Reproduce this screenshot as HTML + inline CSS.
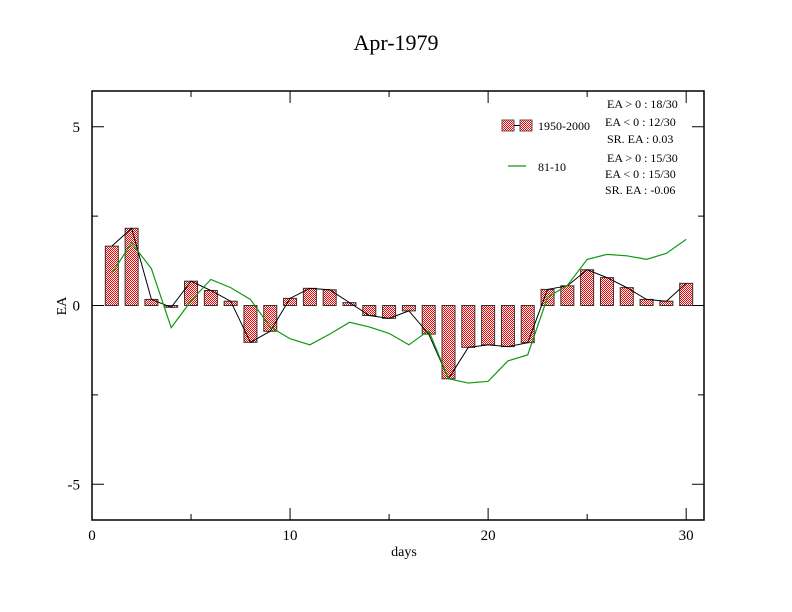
<!DOCTYPE html>
<html><head><meta charset="utf-8"><style>
html,body{margin:0;padding:0;background:#fff;}
svg{display:block;font-family:"Liberation Serif",serif;}
</style></head><body>
<svg id="chart" width="792" height="612" viewBox="0 0 792 612">
<defs>
<pattern id="chk" width="2" height="2" patternUnits="userSpaceOnUse">
<rect width="2" height="2" fill="#fff"/><rect width="1" height="1" fill="#f00"/><rect x="1" y="1" width="1" height="1" fill="#f00"/>
</pattern>
</defs>
<text x="396" y="50" font-size="22" text-anchor="middle">Apr-1979</text>
<rect x="92" y="91" width="612" height="429" fill="none" stroke="#000" stroke-width="1.5"/>
<g id="ticks"></g>
<g id="bars"></g>
<g id="lines"></g>
<text x="404" y="556" font-size="14" text-anchor="middle">days</text>
<text x="66" y="306" font-size="14" text-anchor="middle" transform="rotate(-90 66 306)">EA</text>
<g font-size="12">
<rect x="502" y="120" width="12" height="11" fill="url(#chk)" stroke="#555"/>
<line x1="514" y1="125.5" x2="520" y2="125.5" stroke="#000"/>
<rect x="520" y="120" width="12" height="11" fill="url(#chk)" stroke="#555"/>
<text x="538" y="130">1950-2000</text>
<line x1="508" y1="166" x2="526" y2="166" stroke="#119911" stroke-width="1.2"/>
<text x="538" y="171">81-10</text>
<text x="607" y="108">EA &gt; 0 : 18/30</text>
<text x="605" y="126">EA &lt; 0 : 12/30</text>
<text x="607" y="143">SR. EA :  0.03</text>
<text x="607" y="162">EA &gt; 0 : 15/30</text>
<text x="605" y="178">EA &lt; 0 : 15/30</text>
<text x="605" y="194">SR. EA : -0.06</text>
</g>
</svg>
<script>
const days = [1,2,3,4,5,6,7,8,9,10,11,12,13,14,15,16,17,18,19,20,21,22,23,24,25,26,27,28,29,30];
const ea1950 = [1.66,2.16,0.17,-0.05,0.68,0.42,0.12,-1.03,-0.72,0.2,0.48,0.44,0.08,-0.28,-0.36,-0.15,-0.8,-2.05,-1.17,-1.1,-1.15,-1.04,0.45,0.55,1.0,0.78,0.5,0.17,0.12,0.62];
const ea8110 = [0.9,1.75,1.03,-0.62,0.13,0.73,0.5,0.17,-0.6,-0.93,-1.1,-0.8,-0.47,-0.6,-0.78,-1.1,-0.7,-2.05,-2.17,-2.12,-1.55,-1.38,0.23,0.56,1.29,1.43,1.39,1.29,1.46,1.85];
const xTicks = [0,10,20,30];
const yTicks = [-5,0,5];
const NS='http://www.w3.org/2000/svg';
const X0=92,X1=704,Y0=520,Y1=91,XMIN=0,XMAX=30.9,YMIN=-6,YMAX=6;
function sx(v){return X0+(v-XMIN)/(XMAX-XMIN)*(X1-X0);}
function sy(v){return Y0-(v-YMIN)/(YMAX-YMIN)*(Y0-Y1);}
function mk(tag,attrs,parent){const e=document.createElementNS(NS,tag);for(const k in attrs)e.setAttribute(k,attrs[k]);parent.appendChild(e);return e;}
const tg=document.getElementById('ticks');
for(let v=0;v<=30;v+=5){const major=v%10===0;const L=major?12:6;
 const t1=mk('line',{x1:sx(v),x2:sx(v),y1:Y0,y2:Y0-L,stroke:'#000'},tg);
 
 
 const t2=mk('line',{x1:sx(v),x2:sx(v),y1:Y1,y2:Y1+L,stroke:'#000'},tg);
 
 }
xTicks.forEach(v=>{const t=mk('text',{x:sx(v),y:540,'font-size':15,'text-anchor':'middle'},tg);t.textContent=v;
 
 });
for(let v=-5;v<=5;v+=2.5){const major=v%5===0;const L=major?12:6;
 const t1=mk('line',{x1:X0,x2:X0+L,y1:sy(v),y2:sy(v),stroke:'#000'},tg);
 
 
 const t2=mk('line',{x1:X1,x2:X1-L,y1:sy(v),y2:sy(v),stroke:'#000'},tg);
 
 }
yTicks.forEach(v=>{const t=mk('text',{x:80,y:sy(v)+5,'font-size':15,'text-anchor':'end'},tg);t.textContent=v;
 
 });
const bg=document.getElementById('bars');
const bw=13;
days.forEach((d,i)=>{const v=ea1950[i];const y=Math.min(sy(v),sy(0));const h=Math.abs(sy(v)-sy(0));
 const r=mk('rect',{x:sx(d)-bw/2,y:y,width:bw,height:Math.max(h,1),fill:'url(#chk)',stroke:'#333','stroke-width':1},bg);
 
 });
const lg=document.getElementById('lines');
const p1=mk('polyline',{points:days.map((d,i)=>sx(d)+','+sy(ea1950[i])).join(' '),fill:'none',stroke:'#000','stroke-width':1},lg);


const p2=mk('polyline',{points:days.map((d,i)=>sx(d)+','+sy(ea8110[i])).join(' '),fill:'none',stroke:'#119911','stroke-width':1.2},lg);


</script>
</body></html>
